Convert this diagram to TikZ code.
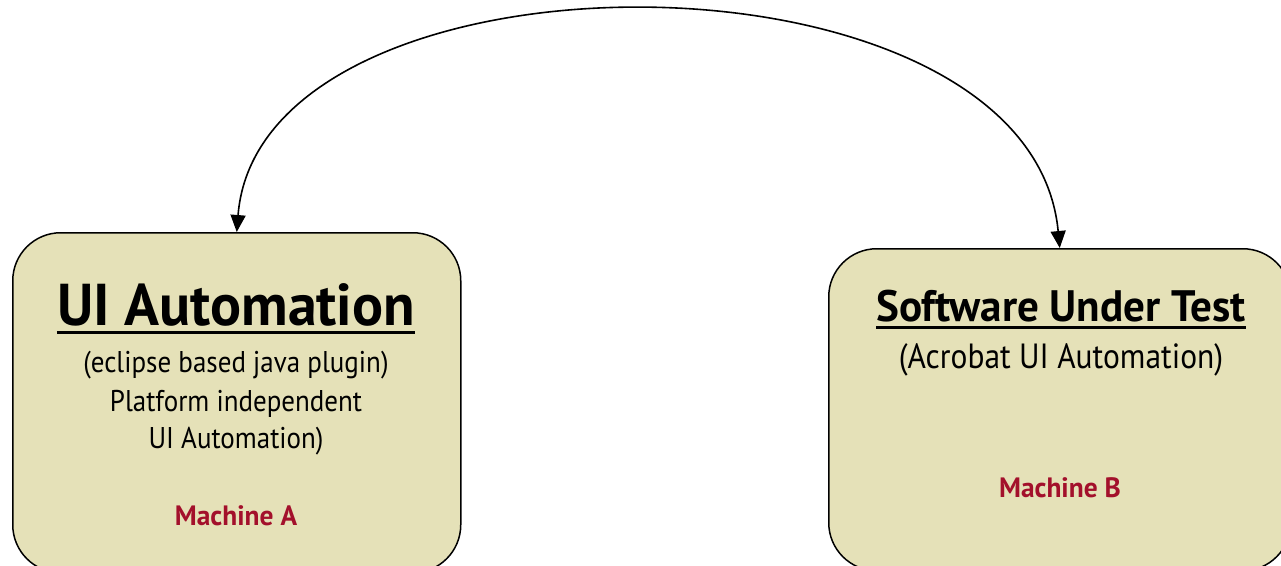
\documentclass[tikz,border=0pt]{standalone}
\usepackage{fontspec}
\setmainfont{PT Sans}[FakeStretch=0.90]
\newfontfamily\headfont{PT Sans}[FakeStretch=0.98]
\usetikzlibrary{arrows.meta}
\definecolor{boxfill}{HTML}{E5E1B8}
\definecolor{machinered}{HTML}{A3102B}
\begin{document}
\begin{tikzpicture}[x=1pt,y=-1pt,
  machine/.style={draw=black,line width=1.5pt,fill=boxfill,rounded corners=48pt,
    inner sep=0pt,anchor=north west},
  txt/.style={anchor=base,inner sep=0pt},
  link/.style={line width=1.6pt,
    {Triangle[width=15pt,length=17pt]}-{Triangle[width=15pt,length=17pt]}},
  underbar/.style={line width=3pt}]
\useasboundingbox (0,0) rectangle (1281,565);
\clip (0,0) rectangle (1281,565);

% machine boxes
\node[machine,minimum width=448pt,minimum height=340pt] (boxA) at (12,232) {};
\node[machine,minimum width=462pt,minimum height=322pt] (boxB) at (828,248) {};

% Machine A contents
\node[txt,font=\headfont\fontsize{59}{59}\selectfont\bfseries] (titleA) at (236,325) {UI Automation};
\draw[underbar] ([yshift=-7pt]titleA.base west) -- ([yshift=-7pt]titleA.base east);
\node[txt,font=\fontsize{30}{38}\selectfont] (a1) at (236,372) {(eclipse based java plugin)};
\node[txt,font=\fontsize{30}{38}\selectfont] (a2) at (236,411) {Platform independent};
\node[txt,font=\fontsize{30}{38}\selectfont] (a3) at (236,448) {UI Automation)};
\node[txt,font=\headfont\fontsize{28}{28}\selectfont\bfseries,text=machinered] (ma) at (236,525) {Machine A};

% Machine B contents
\node[txt,font=\headfont\fontsize{44}{44}\selectfont\bfseries] (titleB) at (1061,321) {Software Under Test};
\draw[underbar] ([yshift=-6pt]titleB.base west) -- ([yshift=-6pt]titleB.base east);
\node[txt,font=\fontsize{35}{40}\selectfont] (b1) at (1061,368) {(Acrobat UI Automation)};
\node[txt,font=\headfont\fontsize{28}{28}\selectfont\bfseries,text=machinered] (mb) at (1060,497) {Machine B};

% link between the machines
\draw[link] (boxA.north) .. controls (260,-65) and (1030,-65) .. (boxB.north);
\end{tikzpicture}
\end{document}
